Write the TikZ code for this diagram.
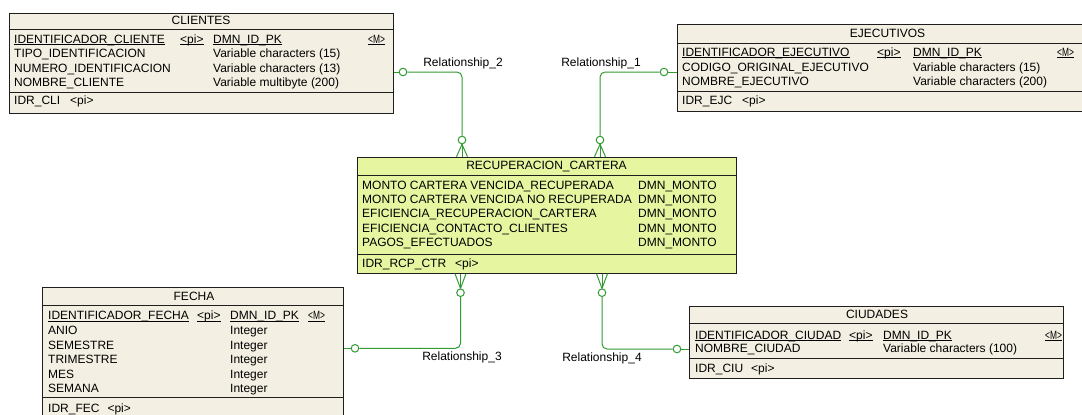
\documentclass[tikz,border=0pt]{standalone}
\usepackage{fontspec}
\usepackage{graphicx}
\setmainfont{Liberation Sans}
\usetikzlibrary{calc}
\definecolor{tblfill}{RGB}{243,239,226}
\definecolor{factfill}{RGB}{229,245,160}
\definecolor{relgreen}{RGB}{50,155,50}
\definecolor{inkc}{RGB}{30,30,30}
\newcommand\pkul[1]{\setbox0\hbox{#1}\rlap{\rule[-1.6pt]{\wd0}{0.75pt}}\box0}
\newcommand\mtag{\scalebox{0.7}[1]{<M>}}
\begin{document}
\begin{tikzpicture}[x=1pt,y=-1pt,
 tbox/.style={draw=inkc, line width=1pt, fill=tblfill, inner sep=0, anchor=north west},
 fbox/.style={tbox, fill=factfill},
 sepl/.style={draw=inkc, line width=0.9pt},
 t/.style={anchor=base west, inner sep=0, yshift=-4.3pt, text=black, font=\fontsize{12}{14}\selectfont},
 tt/.style={t, anchor=base},
 rel/.style={draw=relgreen, line width=1pt},
 rc/.style={rel, circle, fill=white, minimum size=7.6pt, inner sep=0},
]
\useasboundingbox (0,0) rectangle (1082,415);
\clip (0,0) rectangle (1082,415);
\fill[white] (0,0) rectangle (1082,415);

% ---------------- CLIENTES
\node[tbox, minimum width=384pt, minimum height=100pt] (cli) at (9,12.7) {};
\draw[sepl] (9,29.3) -- (393,29.3);
\draw[sepl] (9,92.7) -- (393,92.7);
\node[tt] (cliT) at (201,20.5) {CLIENTES};
\node[t] (c1a) at (14,38.8) {\pkul{IDENTIFICADOR\_CLIENTE}};
\node[t] (c1b) at (180,38.8) {\pkul{<pi>}};
\node[t] (c1c) at (213,38.8) {\pkul{DMN\_ID\_PK}};
\node[t] (c1d) at (368,38.8) {\pkul{\mtag}};
\node[t] (c2a) at (14,53.3) {TIPO\_IDENTIFICACION};
\node[t] (c2b) at (213,53.3) {Variable characters (15)};
\node[t] (c3a) at (14,67.8) {NUMERO\_IDENTIFICACION};
\node[t] (c3b) at (213,67.8) {Variable characters (13)};
\node[t] (c4a) at (14,82.3) {NOMBRE\_CLIENTE};
\node[t] (c4b) at (213,82.3) {Variable multibyte (200)};
\node[t] (c5a) at (14,100.5) {IDR\_CLI\hspace{10pt}<pi>};

% ---------------- EJECUTIVOS
\node[tbox, minimum width=421pt, minimum height=87pt] (eje) at (677,24.3) {};
\draw[sepl] (677,43.3) -- (1098,43.3);
\draw[sepl] (677,91.3) -- (1098,91.3);
\node[tt] (ejeT) at (887.5,33.3) {EJECUTIVOS};
\node[t] (e1a) at (682,52.3) {\pkul{IDENTIFICADOR\_EJECUTIVO}};
\node[t] (e1b) at (877,52.3) {\pkul{<pi>}};
\node[t] (e1c) at (913,52.3) {\pkul{DMN\_ID\_PK}};
\node[t] (e1d) at (1057,52.3) {\pkul{\mtag}};
\node[t] (e2a) at (682,66.7) {CODIGO\_ORIGINAL\_EJECUTIVO};
\node[t] (e2b) at (913,66.7) {Variable characters (15)};
\node[t] (e3a) at (682,80.8) {NOMBRE\_EJECUTIVO};
\node[t] (e3b) at (913,80.8) {Variable characters (200)};
\node[t] (e4a) at (682,100.3) {IDR\_EJC\hspace{10pt}<pi>};

% ---------------- RECUPERACION_CARTERA
\node[fbox, minimum width=379pt, minimum height=116pt] (rcp) at (357,156.7) {};
\draw[sepl] (357,175) -- (736,175);
\draw[sepl] (357,254.3) -- (736,254.3);
\node[tt] (rcpT) at (546.5,165.5) {RECUPERACION\_CARTERA};
\node[t] (f1a) at (362,184.7) {MONTO CARTERA VENCIDA\_RECUPERADA};
\node[t] (f1b) at (638,184.7) {DMN\_MONTO};
\node[t] (f2a) at (362,198.8) {MONTO CARTERA VENCIDA NO RECUPERADA};
\node[t] (f2b) at (638,198.8) {DMN\_MONTO};
\node[t] (f3a) at (362,213.2) {EFICIENCIA\_RECUPERACION\_CARTERA};
\node[t] (f3b) at (638,213.2) {DMN\_MONTO};
\node[t] (f4a) at (362,227.8) {EFICIENCIA\_CONTACTO\_CLIENTES};
\node[t] (f4b) at (638,227.8) {DMN\_MONTO};
\node[t] (f5a) at (362,242.2) {PAGOS\_EFECTUADOS};
\node[t] (f5b) at (638,242.2) {DMN\_MONTO};
\node[t] (f6a) at (362,263.5) {IDR\_RCP\_CTR\hspace{9pt}<pi>};

% ---------------- FECHA
\node[tbox, minimum width=301pt, minimum height=133pt] (fec) at (42,287.3) {};
\draw[sepl] (42,305) -- (343,305);
\draw[sepl] (42,397.5) -- (343,397.5);
\node[tt] (fecT) at (194,296.3) {FECHA};
\node[t] (d1a) at (48,315.5) {\pkul{IDENTIFICADOR\_FECHA}};
\node[t] (d1b) at (197,315.5) {\pkul{<pi>}};
\node[t] (d1c) at (230,315.5) {\pkul{DMN\_ID\_PK}};
\node[t] (d1d) at (308,315.5) {\pkul{\mtag}};
\node[t] (d2a) at (48,330.3) {ANIO};
\node[t] (d2b) at (230,330.3) {Integer};
\node[t] (d3a) at (48,344.8) {SEMESTRE};
\node[t] (d3b) at (230,344.8) {Integer};
\node[t] (d4a) at (48,359) {TRIMESTRE};
\node[t] (d4b) at (230,359) {Integer};
\node[t] (d5a) at (48,373.7) {MES};
\node[t] (d5b) at (230,373.7) {Integer};
\node[t] (d6a) at (48,388) {SEMANA};
\node[t] (d6b) at (230,388) {Integer};
\node[t] (d7a) at (48,408.3) {IDR\_FEC\hspace{8pt}<pi>};

% ---------------- CIUDADES
\node[tbox, minimum width=374pt, minimum height=72pt] (ciu) at (689,306.3) {};
\draw[sepl] (689,323.3) -- (1063,323.3);
\draw[sepl] (689,358.3) -- (1063,358.3);
\node[tt] (ciuT) at (877,314.2) {CIUDADES};
\node[t] (u1a) at (695,334.8) {\pkul{IDENTIFICADOR\_CIUDAD}};
\node[t] (u1b) at (849,334.8) {\pkul{<pi>}};
\node[t] (u1c) at (883,334.8) {\pkul{DMN\_ID\_PK}};
\node[t] (u1d) at (1045,334.8) {\pkul{\mtag}};
\node[t] (u2a) at (695,348.5) {NOMBRE\_CIUDAD};
\node[t] (u2b) at (883,348.5) {Variable characters (100)};
\node[t] (u3a) at (695,368.2) {IDR\_CIU\hspace{8pt}<pi>};

% ---------------- Relationship_2
\node[rc] (r2a) at (403,72) {};
\node[rc] (r2b) at (462,140) {};
\draw[rel] (r2a.west) -- (r2a.west -| cli.east);
\draw[rel, rounded corners=5pt] (r2a.east) -| (r2b.north);
\draw[rel] (r2b.south) -- (r2b.south |- rcp.north);
\draw[rel] (r2b.south) -- ($(r2b.south |- rcp.north)+(-5.5,0)$);
\draw[rel] (r2b.south) -- ($(r2b.south |- rcp.north)+(5.5,0)$);
\node[tt] (l2) at (463,61.7) {Relationship\_2};

% ---------------- Relationship_1
\node[rc] (r1a) at (664,72) {};
\node[rc] (r1b) at (600,140) {};
\draw[rel] (r1a.east) -- (r1a.east -| eje.west);
\draw[rel, rounded corners=5pt] (r1a.west) -| (r1b.north);
\draw[rel] (r1b.south) -- (r1b.south |- rcp.north);
\draw[rel] (r1b.south) -- ($(r1b.south |- rcp.north)+(-5.5,0)$);
\draw[rel] (r1b.south) -- ($(r1b.south |- rcp.north)+(5.5,0)$);
\node[tt] (l1) at (601,61.7) {Relationship\_1};

% ---------------- Relationship_3
\node[rc] (r3a) at (355,348.3) {};
\node[rc] (r3b) at (460.5,292.7) {};
\draw[rel] (r3a.west) -- (r3a.west -| fec.east);
\draw[rel, rounded corners=5pt] (r3a.east) -| (r3b.south);
\draw[rel] (r3b.north) -- (r3b.north |- rcp.south);
\draw[rel] (r3b.north) -- ($(r3b.north |- rcp.south)+(-5.5,0)$);
\draw[rel] (r3b.north) -- ($(r3b.north |- rcp.south)+(5.5,0)$);
\node[tt] (l3) at (462,356) {Relationship\_3};

% ---------------- Relationship_4
\node[rc] (r4a) at (677,349) {};
\node[rc] (r4b) at (602,292.7) {};
\draw[rel] (r4a.east) -- (r4a.east -| ciu.west);
\draw[rel, rounded corners=5pt] (r4a.west) -| (r4b.south);
\draw[rel] (r4b.north) -- (r4b.north |- rcp.south);
\draw[rel] (r4b.north) -- ($(r4b.north |- rcp.south)+(-5.5,0)$);
\draw[rel] (r4b.north) -- ($(r4b.north |- rcp.south)+(5.5,0)$);
\node[tt] (l4) at (602,357.3) {Relationship\_4};
\end{tikzpicture}
\end{document}
